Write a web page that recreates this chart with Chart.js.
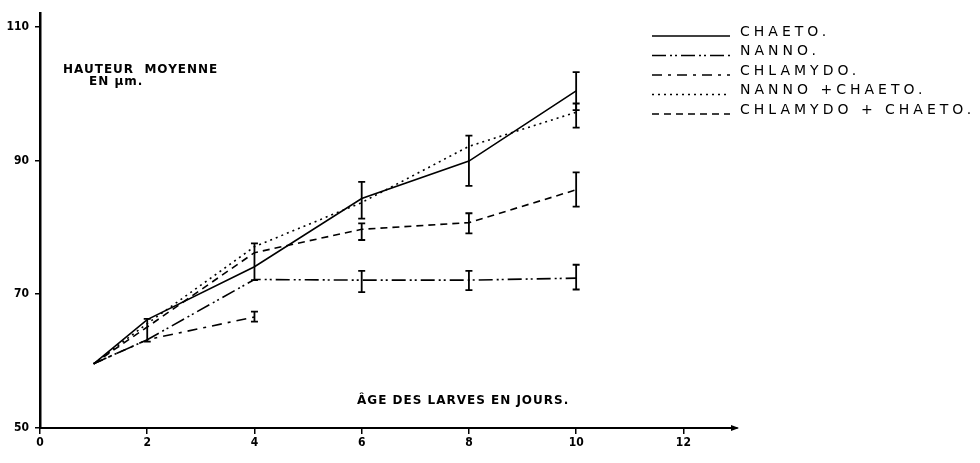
<!DOCTYPE html>
<html lang="fr">
<head>
<meta charset="UTF-8">
<title>Hauteur moyenne des larves</title>
<script src="https://cdn.jsdelivr.net/npm/chart.js"></script>
<style>
  body { margin: 0; background: #fff; }
  canvas { display: block; }
</style>
</head>
<body>
<canvas id="growth" width="980" height="463"></canvas>
<script>
// day of measurement
const days = [1, 2, 4, 6, 8, 10];

// mean height (µm) per diet
const chaeto         = [59.6, 66.2, 74.1, 84.3, 89.9, 100.4];
const nanno          = [59.6, 63.2, 72.2, 72.1, 72.1, 72.4];
const chlamydo       = [59.6, 63.2, 66.6];
const nannoChaeto    = [59.6, 65.6, 77.1, 83.7, 92.1, 97.2];
const chlamydoChaeto = [59.6, 65.1, 76.2, 79.7, 80.7, 85.6];

// error bars [low, high], null where none
const chaetoErr         = [null, null, [72.1, 77.6], [81.3, 86.8], [86.2, 93.7], [97.5, 103.2]];
const nannoErr          = [null, [62.9, 66.3], null, [70.3, 73.5], [70.6, 73.5], [70.7, 74.4]];
const chlamydoErr       = [null, null, [65.9, 67.4]];
const nannoChaetoErr    = [null, null, null, null, null, [94.9, 98.5]];
const chlamydoChaetoErr = [null, null, null, [78.1, 80.6], [79.1, 82.1], [83.1, 88.2]];

const xTicks = [0, 2, 4, 6, 8, 10, 12];
const yTicks = [50, 70, 90, 110];

const pts = (vals) => vals.map((v, i) => ({ x: days[i], y: v }));

const series = [
  { label: 'CHAETO.',            data: chaeto,         err: chaetoErr,         dash: [] },
  { label: 'NANNO.',             data: nanno,          err: nannoErr,          dash: [14, 4, 2, 3, 2, 4] },
  { label: 'CHLAMYDO.',          data: chlamydo,       err: chlamydoErr,       dash: [10, 6, 3, 6] },
  { label: 'NANNO +CHAETO.',     data: nannoChaeto,    err: nannoChaetoErr,    dash: [2, 4] },
  { label: 'CHLAMYDO + CHAETO.', data: chlamydoChaeto, err: chlamydoChaetoErr, dash: [7, 5] }
];

const tickFont = { family: '"DejaVu Sans Condensed", "Liberation Sans Narrow", sans-serif', size: 12, weight: 'bold' };
const textFont = 'bold 12px "DejaVu Sans", sans-serif';
const legendFont = '14px "DejaVu Sans", sans-serif';

// error bars, legend, captions and axis arrow
const extras = {
  id: 'extras',
  afterDatasetsDraw(chart) {
    const { ctx, scales: { x, y } } = chart;
    ctx.save();
    ctx.strokeStyle = '#000';
    ctx.lineWidth = 1.8;
    ctx.setLineDash([]);
    chart.data.datasets.forEach(ds => {
      ds.err.forEach((e, i) => {
        if (!e) return;
        const px = x.getPixelForValue(days[i]);
        const lo = y.getPixelForValue(e[0]);
        const hi = y.getPixelForValue(e[1]);
        ctx.beginPath();
        ctx.moveTo(px, lo); ctx.lineTo(px, hi);
        ctx.moveTo(px - 3.5, lo); ctx.lineTo(px + 3.5, lo);
        ctx.moveTo(px - 3.5, hi); ctx.lineTo(px + 3.5, hi);
        ctx.stroke();
      });
    });
    ctx.restore();
  },
  afterDraw(chart) {
    const { ctx, chartArea: a } = chart;
    ctx.save();
    ctx.fillStyle = '#000';
    ctx.strokeStyle = '#000';

    // arrow head at end of x axis
    ctx.beginPath();
    ctx.moveTo(a.right + 2, a.bottom);
    ctx.lineTo(a.right - 6, a.bottom - 3);
    ctx.lineTo(a.right - 6, a.bottom + 3);
    ctx.closePath();
    ctx.fill();

    // captions
    ctx.font = textFont;
    ctx.letterSpacing = '1px';
    ctx.textBaseline = 'middle';
    ctx.fillText('HAUTEUR  MOYENNE', 63, 70);
    ctx.fillText('EN µm.', 89, 82);
    ctx.fillText('ÂGE DES LARVES EN JOURS.', 357, 401);

    // legend
    ctx.font = legendFont;
    ctx.letterSpacing = '4px';
    chart.data.datasets.forEach((ds, i) => {
      const ly = 32 + i * 19.5;
      ctx.beginPath();
      ctx.lineWidth = 1.5;
      ctx.setLineDash(ds.borderDash);
      ctx.moveTo(652, ly + 4);
      ctx.lineTo(730, ly + 4);
      ctx.stroke();
      ctx.setLineDash([]);
      ctx.fillText(ds.label, 740, ly);
    });
    ctx.restore();
  }
};

new Chart(document.getElementById('growth'), {
  type: 'line',
  data: {
    datasets: series.map(s => ({
      label: s.label,
      data: pts(s.data),
      err: s.err,
      borderColor: '#000',
      borderWidth: 1.6,
      borderDash: s.dash,
      pointRadius: 0,
      tension: 0,
      fill: false
    }))
  },
  options: {
    responsive: false,
    animation: false,
    layout: { padding: { top: 5, right: 243, left: 0, bottom: 0 } },
    plugins: { legend: { display: false }, tooltip: { enabled: false } },
    scales: {
      x: {
        type: 'linear',
        min: 0,
        max: 13,
        afterBuildTicks: s => { s.ticks = xTicks.map(v => ({ value: v })); },
        afterFit: s => { s.height = 35; },
        ticks: { color: '#000', font: tickFont, padding: 2 },
        grid: { drawOnChartArea: false, color: '#000', lineWidth: 1.5, tickLength: 6 },
        border: { color: '#000', width: 2 }
      },
      y: {
        min: 50,
        max: 112,
        afterBuildTicks: s => { s.ticks = yTicks.map(v => ({ value: v })); },
        afterFit: s => { s.width = 40; },
        ticks: { color: '#000', font: tickFont, padding: 6 },
        grid: { drawOnChartArea: false, color: '#000', lineWidth: 1.5, tickLength: 5 },
        border: { color: '#000', width: 2.5 }
      }
    }
  },
  plugins: [extras]
});
</script>
</body>
</html>
